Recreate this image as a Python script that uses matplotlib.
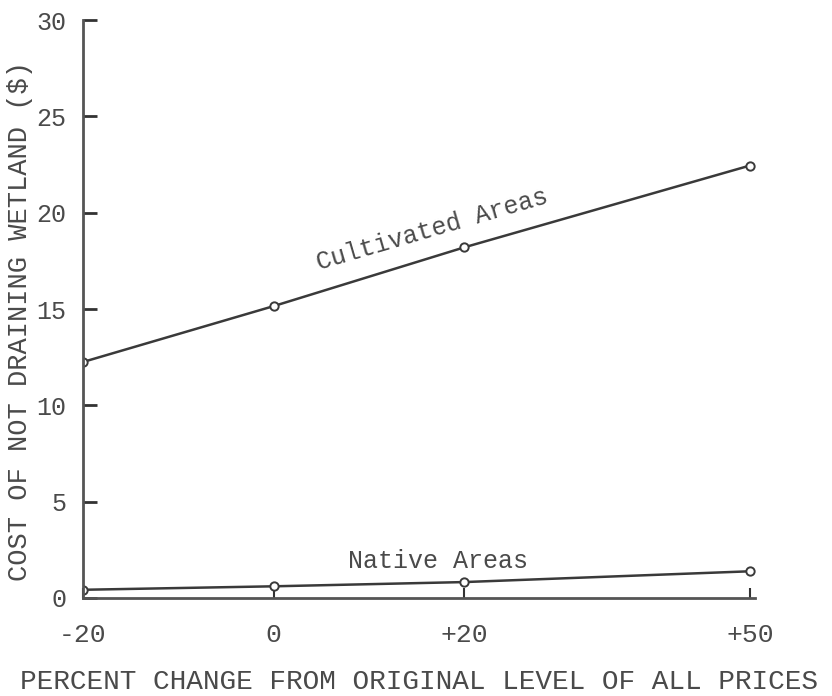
import matplotlib.pyplot as plt

# data
pct_change = [-20, 0, 20, 50]
pct_labels = ["-20", "0", "+20", "+50"]
cultivated = [12.25, 15.15, 18.2, 22.45]
native = [0.42, 0.6, 0.82, 1.38]
y_ticks = [0, 5, 10, 15, 20, 25, 30]

plt.rcParams['font.family'] = ['Liberation Mono', 'DejaVu Sans Mono']
ink = '#3a3a3a'
text_col = '#4a4a4a'

fig = plt.figure(figsize=(8.32, 6.96), dpi=100)
ax = fig.add_axes([0.0998, 0.141, 0.8072, 0.830])

ax.plot(pct_change, cultivated, color=ink, linewidth=1.8,
        marker='o', markersize=6, markerfacecolor='white',
        markeredgecolor=ink, markeredgewidth=1.4)
ax.plot(pct_change, native, color=ink, linewidth=1.8,
        marker='o', markersize=6, markerfacecolor='white',
        markeredgecolor=ink, markeredgewidth=1.4)

ax.text(16.7, 19.1, "Cultivated Areas", rotation=16.3, rotation_mode='anchor',
        ha='center', va='center', fontsize=18, color=text_col)
ax.text(17.3, 1.9, "Native Areas", ha='center', va='center',
        fontsize=18, color=text_col)

ax.set_xlim(-20, 50.5)
ax.set_ylim(0, 30)
ax.set_xticks(pct_change)
ax.set_xticklabels(pct_labels)
ax.set_yticks(y_ticks)

for side in ['top', 'right']:
    ax.spines[side].set_visible(False)
for side in ['left', 'bottom']:
    ax.spines[side].set_color('#555555')
    ax.spines[side].set_linewidth(2)

ax.tick_params(axis='y', direction='in', length=10, width=2, color='#333333',
               labelsize=18, labelcolor=text_col, pad=12)
ax.tick_params(axis='x', direction='in', length=7, width=1.5, color='#333333',
               labelsize=19, labelcolor=text_col, pad=18)

ax.set_ylabel("COST OF NOT DRAINING WETLAND ($)", fontsize=19.5, color=text_col)
ax.yaxis.set_label_coords(-0.074, 0.48)
ax.set_xlabel("PERCENT CHANGE FROM ORIGINAL LEVEL OF ALL PRICES", fontsize=20,
              color=text_col, labelpad=16)

fig.savefig("out.png", dpi=100)
